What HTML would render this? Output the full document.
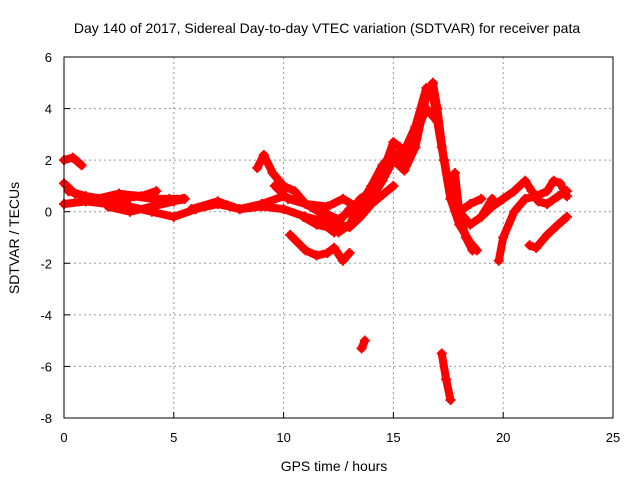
<!DOCTYPE html>
<html><head><meta charset="utf-8"><style>
body{margin:0;background:#fff}
svg{display:block;font-family:"Liberation Sans",sans-serif}
</style></head><body>
<svg id="c" width="640" height="480">
<text x="327" y="33" text-anchor="middle" font-size="14">Day 140 of 2017, Sidereal Day-to-day VTEC variation (SDTVAR) for receiver pata</text>
<text x="334" y="471" text-anchor="middle" font-size="14">GPS time / hours</text>
<text transform="translate(19,238) rotate(-90)" text-anchor="middle" font-size="14">SDTVAR / TECUs</text>
<g id="grid"></g>
<g id="ticks"></g>
<g id="series"></g>
<rect x="64" y="57" width="549" height="361" fill="none" stroke="#000" stroke-width="1"/>
</svg>
<script>
const xTicks=[0,5,10,15,20,25];
const yTicks=[6,4,2,0,-2,-4,-6,-8];
const tracks=[
[[0,2.0],[0.4,2.1],[0.8,1.8]],
[[0,1.1],[0.5,0.7],[1.5,0.5],[2.5,0.7],[3.5,0.6],[4.2,0.8]],
[[0.2,0.8],[1,0.6],[1.8,0.5],[2.5,0.4],[3.2,0.6],[4,0.5],[4.8,0.5],[5.4,0.5]],
[[0,0.3],[1,0.4],[2,0.3],[3,0.2],[4,0.0],[5,-0.2],[6,0.1],[7,0.3],[8,0.1],[9,0.2],[10,0.1],[11,-0.2],[12,-0.4],[13,-0.6],[13.5,-0.2],[14,0.3],[15,1.0]],
[[2,0.2],[3,0.0],[4,0.2],[5,0.4],[5.5,0.5]],
[[5.8,0.1],[7,0.4],[8,0.1],[9,0.3],[10,0.6],[11,0.3],[12,0.2],[12.7,0.5],[13.5,0.1],[14,0.5],[14.5,1.2],[15,2.0],[15.5,1.6],[16,2.5],[16.5,4.5],[16.8,5.0],[17,4.0],[17.3,2.0],[17.6,0.5],[18,-0.5],[18.5,-1.2],[18.8,-1.5]],
[[8.8,1.7],[9.1,2.2],[9.5,1.5],[10,1.0],[10.5,0.8],[11,0.3],[11.5,0.2],[12,-0.1],[12.5,-0.3],[13,0.0],[13.5,0.5],[14,0.8],[14.5,1.5],[15,2.7],[15.3,2.5],[15.6,1.8],[16,3.0],[16.5,4.0],[17,3.5],[17.3,2.0],[17.6,0.5],[18,0.0],[18.5,0.3],[19,0.5]],
[[9.6,1.0],[10.2,0.5],[11,0.3],[12,-0.2],[12.5,-0.8],[13,-0.5],[13.5,0.3],[14,1.0],[14.5,1.8],[15,2.3],[15.3,2.0],[16,3.3],[16.5,4.8],[16.8,4.5],[17.2,2.5],[17.5,1.2],[18,0.0],[18.5,-0.5],[19,-0.2],[19.5,0.5]],
[[10.3,-0.9],[11,-1.5],[11.5,-1.7],[12,-1.6],[12.3,-1.4],[12.7,-1.9],[13,-1.6]],
[[10.9,-0.2],[11.5,-0.5],[12,-0.6],[12.3,-0.8],[12.6,-0.3],[13,0.1]],
[[19.8,-1.9],[20,-1.0],[20.5,0.0],[21,0.5],[21.5,0.6],[22,0.8],[22.3,1.2],[22.6,1.1],[22.9,0.6]],
[[19,-0.2],[19.5,0.2],[20,0.5],[20.5,0.8],[21,1.2],[21.3,0.8],[21.6,0.4],[22,0.3],[22.5,0.6],[22.9,0.8]],
[[21.2,-1.3],[21.5,-1.4],[22,-0.9],[22.5,-0.5],[22.9,-0.2]],
[[13.55,-5.3],[13.7,-5.0]],
[[17.2,-5.5],[17.4,-6.5],[17.6,-7.3]],
[[17.8,1.5],[18,0.0],[18.3,-1.0],[18.6,-1.5]]
];
const NS="http://www.w3.org/2000/svg";
const X=t=>64+t*549/25;
const Y=v=>57+(6-v)*361/14;
function mk(tag,at,par){const e=document.createElementNS(NS,tag);for(const k in at)e.setAttribute(k,at[k]);par.appendChild(e);return e;}
const grid=document.getElementById('grid'),ticks=document.getElementById('ticks'),ser=document.getElementById('series');
xTicks.forEach(t=>{
 if(t>0&&t<25){const g=mk('line',{x1:X(t),x2:X(t),y1:57,y2:418,stroke:'#999','stroke-dasharray':'2,3'},grid);
 
 }
 mk('line',{x1:X(t),x2:X(t),y1:418,y2:412,stroke:'#000'},ticks);
 const l=mk('text',{x:X(t),y:442,'text-anchor':'middle','font-size':13},ticks);l.textContent=t;
 
 
});
yTicks.forEach(v=>{
 if(v<6&&v>-8){const g=mk('line',{x1:64,x2:613,y1:Y(v),y2:Y(v),stroke:'#999','stroke-dasharray':'2,3'},grid);
 
 }
 mk('line',{x1:64,x2:70,y1:Y(v),y2:Y(v),stroke:'#000'},ticks);
 const l=mk('text',{x:52,y:Y(v)+5,'text-anchor':'end','font-size':13},ticks);l.textContent=v;
 
 
});
tracks.forEach(tr=>{
 const p=mk('polyline',{points:tr.map(d=>X(d[0])+','+Y(d[1])).join(' '),fill:'none',stroke:'#f00','stroke-width':8,'stroke-linejoin':'round','stroke-linecap':'round'},ser);
 
 
 tr.forEach(d=>{
  const m=mk('path',{d:`M${X(d[0])-5},${Y(d[1])}h10M${X(d[0])},${Y(d[1])-5}v10`,stroke:'#f00','stroke-width':2},ser);
  
  
 });
});
</script>
</body></html>
